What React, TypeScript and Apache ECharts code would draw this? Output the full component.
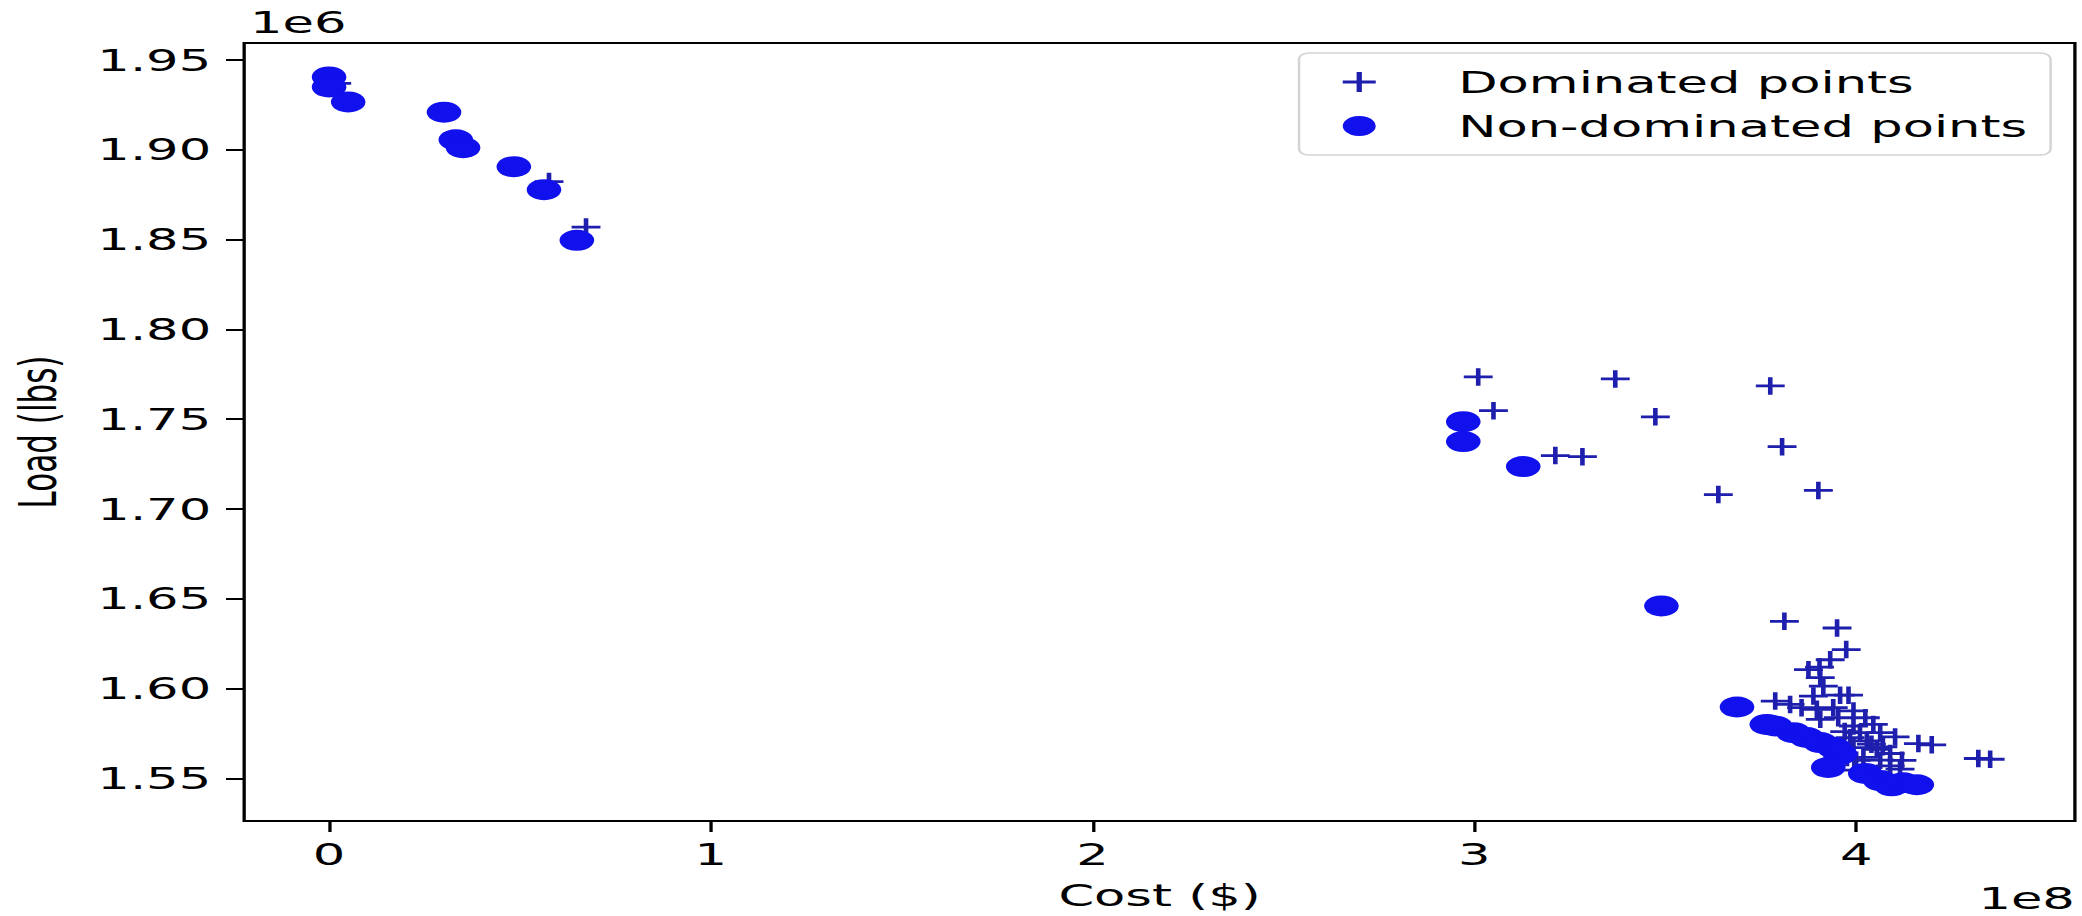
import React, { useEffect, useRef } from "react";
import * as echarts from "echarts";

// Values are shown in the chart's own scale: cost in 1e8 $, load in 1e6 lbs
const COST_SCALE = 1e8;
const LOAD_SCALE = 1e6;

const dominatedCost = [
  0.02, 0.576, 0.673,
  3.01, 3.05, 3.369, 3.474, 3.775, 3.806, 3.212, 3.283, 3.639, 3.901,
  3.812, 3.95, 3.974, 3.932, 3.904, 3.875, 3.906, 3.914, 3.958, 3.98,
  3.888, 3.788, 3.827, 3.857, 3.897, 3.94, 3.993, 4.024, 3.953, 3.906,
  4.045, 3.993, 4.01, 4.063, 4.102, 3.984, 4.028, 4.163, 4.198, 3.993,
  4.054, 4.089, 4.019, 4.063, 4.32, 4.351, 4.115, 4.089, 4.04, 4.07,
  3.97, 4.0, 4.12, 3.976, 3.995,
];
const dominatedLoad = [
  1.937, 1.8823, 1.857,
  1.7735, 1.7547, 1.7724, 1.7513, 1.7685, 1.7347, 1.7297, 1.7291, 1.708, 1.7103,
  1.6374, 1.6337, 1.6217, 1.616, 1.6119, 1.6105, 1.606, 1.6013, 1.5963, 1.5963,
  1.5958, 1.593, 1.5911, 1.5893, 1.5884, 1.5893, 1.5875, 1.5837, 1.5837, 1.5828,
  1.58, 1.5791, 1.5754, 1.5754, 1.573, 1.5726, 1.5708, 1.5693, 1.5686, 1.5671,
  1.5661, 1.5638, 1.5616, 1.5601, 1.561, 1.5606, 1.5551, 1.5569, 1.569, 1.5675,
  1.576, 1.56, 1.56, 1.5616, 1.5545,
];

const nonDominatedCost = [
  0.0, 0.0, 0.05, 0.301, 0.332, 0.351, 0.484, 0.563, 0.649,
  2.971, 2.971, 3.128, 3.49, 3.688, 3.766, 3.788, 3.836, 3.871, 3.906,
  3.941, 3.958, 3.927, 4.024, 4.063, 4.093, 4.123, 4.159,
];
const nonDominatedLoad = [
  1.9406, 1.935, 1.9267, 1.921, 1.9056, 1.9012, 1.8906, 1.8778, 1.8496,
  1.7486, 1.7375, 1.7236, 1.646, 1.5897, 1.58, 1.5791, 1.5754, 1.5727, 1.5699,
  1.5671, 1.5634, 1.556, 1.5527, 1.5487, 1.5458, 1.5475, 1.5464,
];

const xTicks = [0, 1, 2, 3, 4];
const yTicks = [1.55, 1.6, 1.65, 1.7, 1.75, 1.8, 1.85, 1.9, 1.95];

const FIG_W = 2082;
const FIG_H = 916;
const BASE_W = 1262;
const STRETCH = FIG_W / BASE_W;

const PLUS =
  "path://M0,42L42,42L42,0L58,0L58,42L100,42L100,58L58,58L58,100L42,100L42,58L0,58Z";
const CROSS_COLOR = "#1f1fae";
const DOT_COLOR = "#1111ee";
const FONT = "DejaVu Sans";
const FS = 31;

export default function App() {
  const ref = useRef<HTMLDivElement>(null);

  useEffect(() => {
    if (!ref.current) return;
    const chart = echarts.init(ref.current, null, { renderer: "svg" });
    const dominated = dominatedCost.map((c, i) => [c * COST_SCALE, dominatedLoad[i] * LOAD_SCALE]);
    const nonDominated = nonDominatedCost.map((c, i) => [c * COST_SCALE, nonDominatedLoad[i] * LOAD_SCALE]);

    chart.setOption({
      animation: false,
      backgroundColor: "#ffffff",
      textStyle: { fontFamily: FONT },
      grid: {
        left: 147.3,
        right: 4.3,
        top: 43,
        bottom: 93,
        show: true,
        borderColor: "#000",
        borderWidth: 2,
        backgroundColor: "transparent",
      },
      xAxis: {
        type: "value",
        min: -0.2225 * COST_SCALE,
        max: 4.573 * COST_SCALE,
        splitLine: { show: false },
        axisLine: { show: false, onZero: false },
        axisTick: {
          show: true,
          length: 11,
          lineStyle: { color: "#000", width: 2 },
          customValues: xTicks.map((v) => v * COST_SCALE),
        },
        axisLabel: {
          customValues: xTicks.map((v) => v * COST_SCALE),
          formatter: (v: number) => String(Math.round(v / COST_SCALE)),
          fontSize: FS,
          fontFamily: FONT,
          color: "#000",
          margin: 18,
        },
        name: "Cost ($)",
        nameLocation: "middle",
        nameGap: 59,
        nameTextStyle: { fontSize: FS, fontFamily: FONT, color: "#000" },
      },
      yAxis: {
        type: "value",
        min: 1.5262 * LOAD_SCALE,
        max: 1.9595 * LOAD_SCALE,
        splitLine: { show: false },
        axisLine: { show: false, onZero: false },
        axisTick: {
          show: true,
          length: 11,
          lineStyle: { color: "#000", width: 2 },
          customValues: yTicks.map((v) => v * LOAD_SCALE),
        },
        axisLabel: {
          customValues: yTicks.map((v) => v * LOAD_SCALE),
          formatter: (v: number) => (v / LOAD_SCALE).toFixed(2),
          fontSize: FS,
          fontFamily: FONT,
          color: "#000",
          margin: 20,
        },
        name: "Load (lbs)",
        nameLocation: "middle",
        nameRotate: 90,
        nameGap: 109,
        nameTextStyle: { fontSize: FS, fontFamily: FONT, color: "#000" },
      },
      legend: {
        orient: "vertical",
        left: 787.4,
        top: 53,
        padding: [13.5, 14, 13.5, 26.5],
        itemWidth: 40,
        itemHeight: 20,
        itemGap: 13,
        selectedMode: false,
        backgroundColor: "rgba(255,255,255,0.8)",
        borderColor: "#d4d4d4",
        borderWidth: 1.5,
        borderRadius: 6,
        textStyle: { fontSize: FS, fontFamily: FONT, color: "#000", padding: [0, 0, 0, 35] },
        data: [
          { name: "Dominated points", icon: PLUS, itemStyle: { color: CROSS_COLOR } },
          { name: "Non-dominated points", icon: "circle", itemStyle: { color: DOT_COLOR } },
        ],
      },
      graphic: [
        {
          type: "text",
          x: 151.5,
          y: 22,
          style: { text: "1e6", fontSize: FS, fontFamily: FONT, fill: "#000", align: "left", verticalAlign: "middle" },
        },
        {
          type: "text",
          x: BASE_W - 4.3,
          y: 898,
          style: { text: "1e8", fontSize: FS, fontFamily: FONT, fill: "#000", align: "right", verticalAlign: "middle" },
        },
      ],
      series: [
        {
          name: "Dominated points",
          type: "scatter",
          symbol: PLUS,
          symbolSize: 17.5,
          itemStyle: { color: CROSS_COLOR, opacity: 1 },
          data: dominated,
          z: 2,
        },
        {
          name: "Non-dominated points",
          type: "scatter",
          symbol: "circle",
          symbolSize: 21,
          itemStyle: { color: DOT_COLOR, opacity: 1 },
          data: nonDominated,
          z: 3,
        },
      ],
    });

    return () => {
      chart.dispose();
    };
  }, []);

  return (
    <div
      style={{
        position: "fixed",
        left: 0,
        top: 0,
        width: FIG_W,
        height: FIG_H,
        overflow: "hidden",
        background: "#ffffff",
      }}
    >
      <div
        ref={ref}
        style={{
          width: BASE_W,
          height: FIG_H,
          transform: `scaleX(${STRETCH})`,
          transformOrigin: "0 0",
        }}
      />
    </div>
  );
}
